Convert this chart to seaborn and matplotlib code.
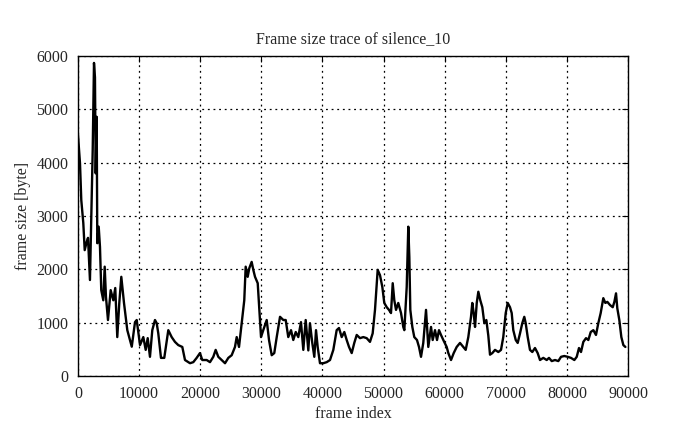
import numpy as np
import pandas as pd
import matplotlib
matplotlib.use("Agg")
import matplotlib.pyplot as plt
import seaborn as sns

# =========================================================
# DATA
# =========================================================

frame_index = [
    0, 330, 540, 870, 1100, 1420, 1640, 1960, 2180, 2410, 2620, 2780, 2900, 3060, 3160,
    3390, 3600, 3810, 4140, 4370, 4580, 4910, 5350, 5780, 6100, 6430, 6760, 7090, 7530,
    8070, 8510, 8800, 9330, 9610, 10150, 10690, 11080, 11410, 11780, 12160, 12600, 12880,
    13140, 13580, 14120, 14780, 15330, 15870, 16410, 17070, 17510, 18330, 18870, 19420,
    19960, 20340, 21060, 21600, 22140, 22530, 22960, 23520, 24060, 24600, 25150, 25690,
    25970, 26350, 26790, 27210, 27440, 27770, 28030, 28420, 28690, 28970, 29410, 29670,
    29950, 30320, 30880, 31260, 31700, 32120, 32520, 33060, 33600, 33990, 34410, 34860,
    35230, 35630, 36050, 36490, 36870, 37260, 37690, 37960, 38340, 38670, 38950, 39220,
    39600, 40140, 40700, 41240, 41780, 42330, 42710, 43150, 43580, 43970, 44350, 44790,
    45210, 45610, 46150, 46690, 47240, 47780, 48220, 48600, 49040, 49420, 49800, 50120,
    50520, 50890, 51220, 51500, 51760, 52040, 52410, 52860, 53230, 53400, 53790, 54050,
    54220, 54380, 54710, 55030, 55470, 55800, 56130, 56500, 56950, 57320, 57770, 58040,
    58420, 58750, 59070, 59400, 59780, 60330, 60600, 61040, 61480, 61970, 62510, 63050,
    63440, 63870, 64310, 64520, 64750, 64970, 65250, 65510, 65830, 66160, 66490, 66820,
    67140, 67420, 67800, 68240, 68780, 69220, 69590, 69990, 70320, 70690, 70970, 71230,
    71630, 71950, 72330, 72700, 73030, 73260, 73590, 73960, 74340, 74780, 75220, 75600,
    76140, 76700, 77070, 77520, 78060, 78600, 79040, 79580, 80130, 80670, 81220, 81610,
    81980, 82310, 82690, 83130, 83510, 83900, 84330, 84760, 85140, 85530, 85960, 86290,
    86620, 87060, 87500, 87770, 88040, 88250, 88580, 88910, 89240, 89570,
]

frame_size = [
    4520, 3990, 3300, 2870, 2360, 2510, 2590, 1800, 2980, 4240, 5870, 5600, 3800, 4860, 2490,
    2800, 2420, 1610, 1420, 2050, 1480, 1050, 1610, 1420, 1650, 730, 1370, 1860, 1370,
    860, 675, 550, 1010, 1050, 580, 730, 490, 710, 360, 860, 1050, 990,
    800, 340, 340, 860, 730, 640, 580, 545, 300, 240, 260, 340,
    430, 300, 300, 260, 360, 490, 360, 300, 240, 340, 390, 545,
    730, 545, 990, 1420, 2050, 1860, 2020, 2140, 1990, 1860, 1740, 1240,
    730, 860, 1050, 675, 390, 430, 730, 1110, 1050, 1050, 730, 860,
    675, 825, 730, 1010, 490, 1050, 480, 990, 620, 360, 860, 545,
    240, 240, 260, 300, 490, 860, 900, 730, 825, 675, 545, 430,
    620, 770, 710, 730, 710, 640, 800, 1240, 1990, 1890, 1670, 1370,
    1290, 1240, 1180, 1740, 1420, 1240, 1370, 1180, 920, 860, 1670, 2800,
    2230, 1240, 920, 730, 675, 545, 360, 620, 1240, 545, 920, 675,
    860, 675, 860, 770, 675, 545, 430, 300, 430, 545, 620, 545,
    490, 730, 1110, 1370, 1180, 920, 1370, 1580, 1420, 1290, 990, 1050,
    760, 400, 430, 490, 450, 490, 730, 1180, 1370, 1290, 1180, 860,
    675, 620, 800, 990, 1110, 990, 730, 490, 450, 525, 430, 300,
    340, 300, 340, 280, 300, 280, 360, 375, 360, 340, 300, 360,
    525, 450, 640, 710, 675, 825, 860, 770, 990, 1180, 1460, 1370,
    1390, 1330, 1290, 1390, 1550, 1270, 1050, 730, 580, 545,
]

x_ticks = [0, 10000, 20000, 30000, 40000, 50000, 60000, 70000, 80000, 90000]
y_ticks = [0, 1000, 2000, 3000, 4000, 5000, 6000]

df = pd.DataFrame({"frame index": frame_index, "frame size [byte]": frame_size})

# =========================================================
# PLOT
# =========================================================

sns.set_style("white")
plt.rcParams["font.family"] = ["Liberation Serif", "DejaVu Serif"]

FS = 11.5

fig = plt.figure(figsize=(6.95, 4.29), dpi=100)
ax = fig.add_axes([0.1122, 0.1235, 0.7914, 0.746])

sns.lineplot(data=df, x="frame index", y="frame size [byte]", ax=ax,
             color="black", linewidth=1.7, estimator=None, sort=False)

ax.set_xlim(0, 90000)
ax.set_ylim(0, 6000)
ax.set_xticks(x_ticks)
ax.set_yticks(y_ticks)
ax.set_xticklabels([str(t) for t in x_ticks], fontsize=FS)
ax.set_yticklabels([str(t) for t in y_ticks], fontsize=FS)

ax.grid(True, color="black", linestyle=(0, (1.5, 3)), linewidth=0.9)
ax.tick_params(direction="in", length=4, width=0.8, color="black",
               top=True, right=True, pad=7)
for spine in ax.spines.values():
    spine.set_color("black")
    spine.set_linewidth(1.0)

ax.set_xlabel("frame index", fontsize=FS, labelpad=3)
ax.set_ylabel("frame size [byte]", fontsize=FS, labelpad=4)
ax.set_title("Frame size trace of silence_10", fontsize=FS, pad=9)

fig.savefig("out.png", dpi=100)
